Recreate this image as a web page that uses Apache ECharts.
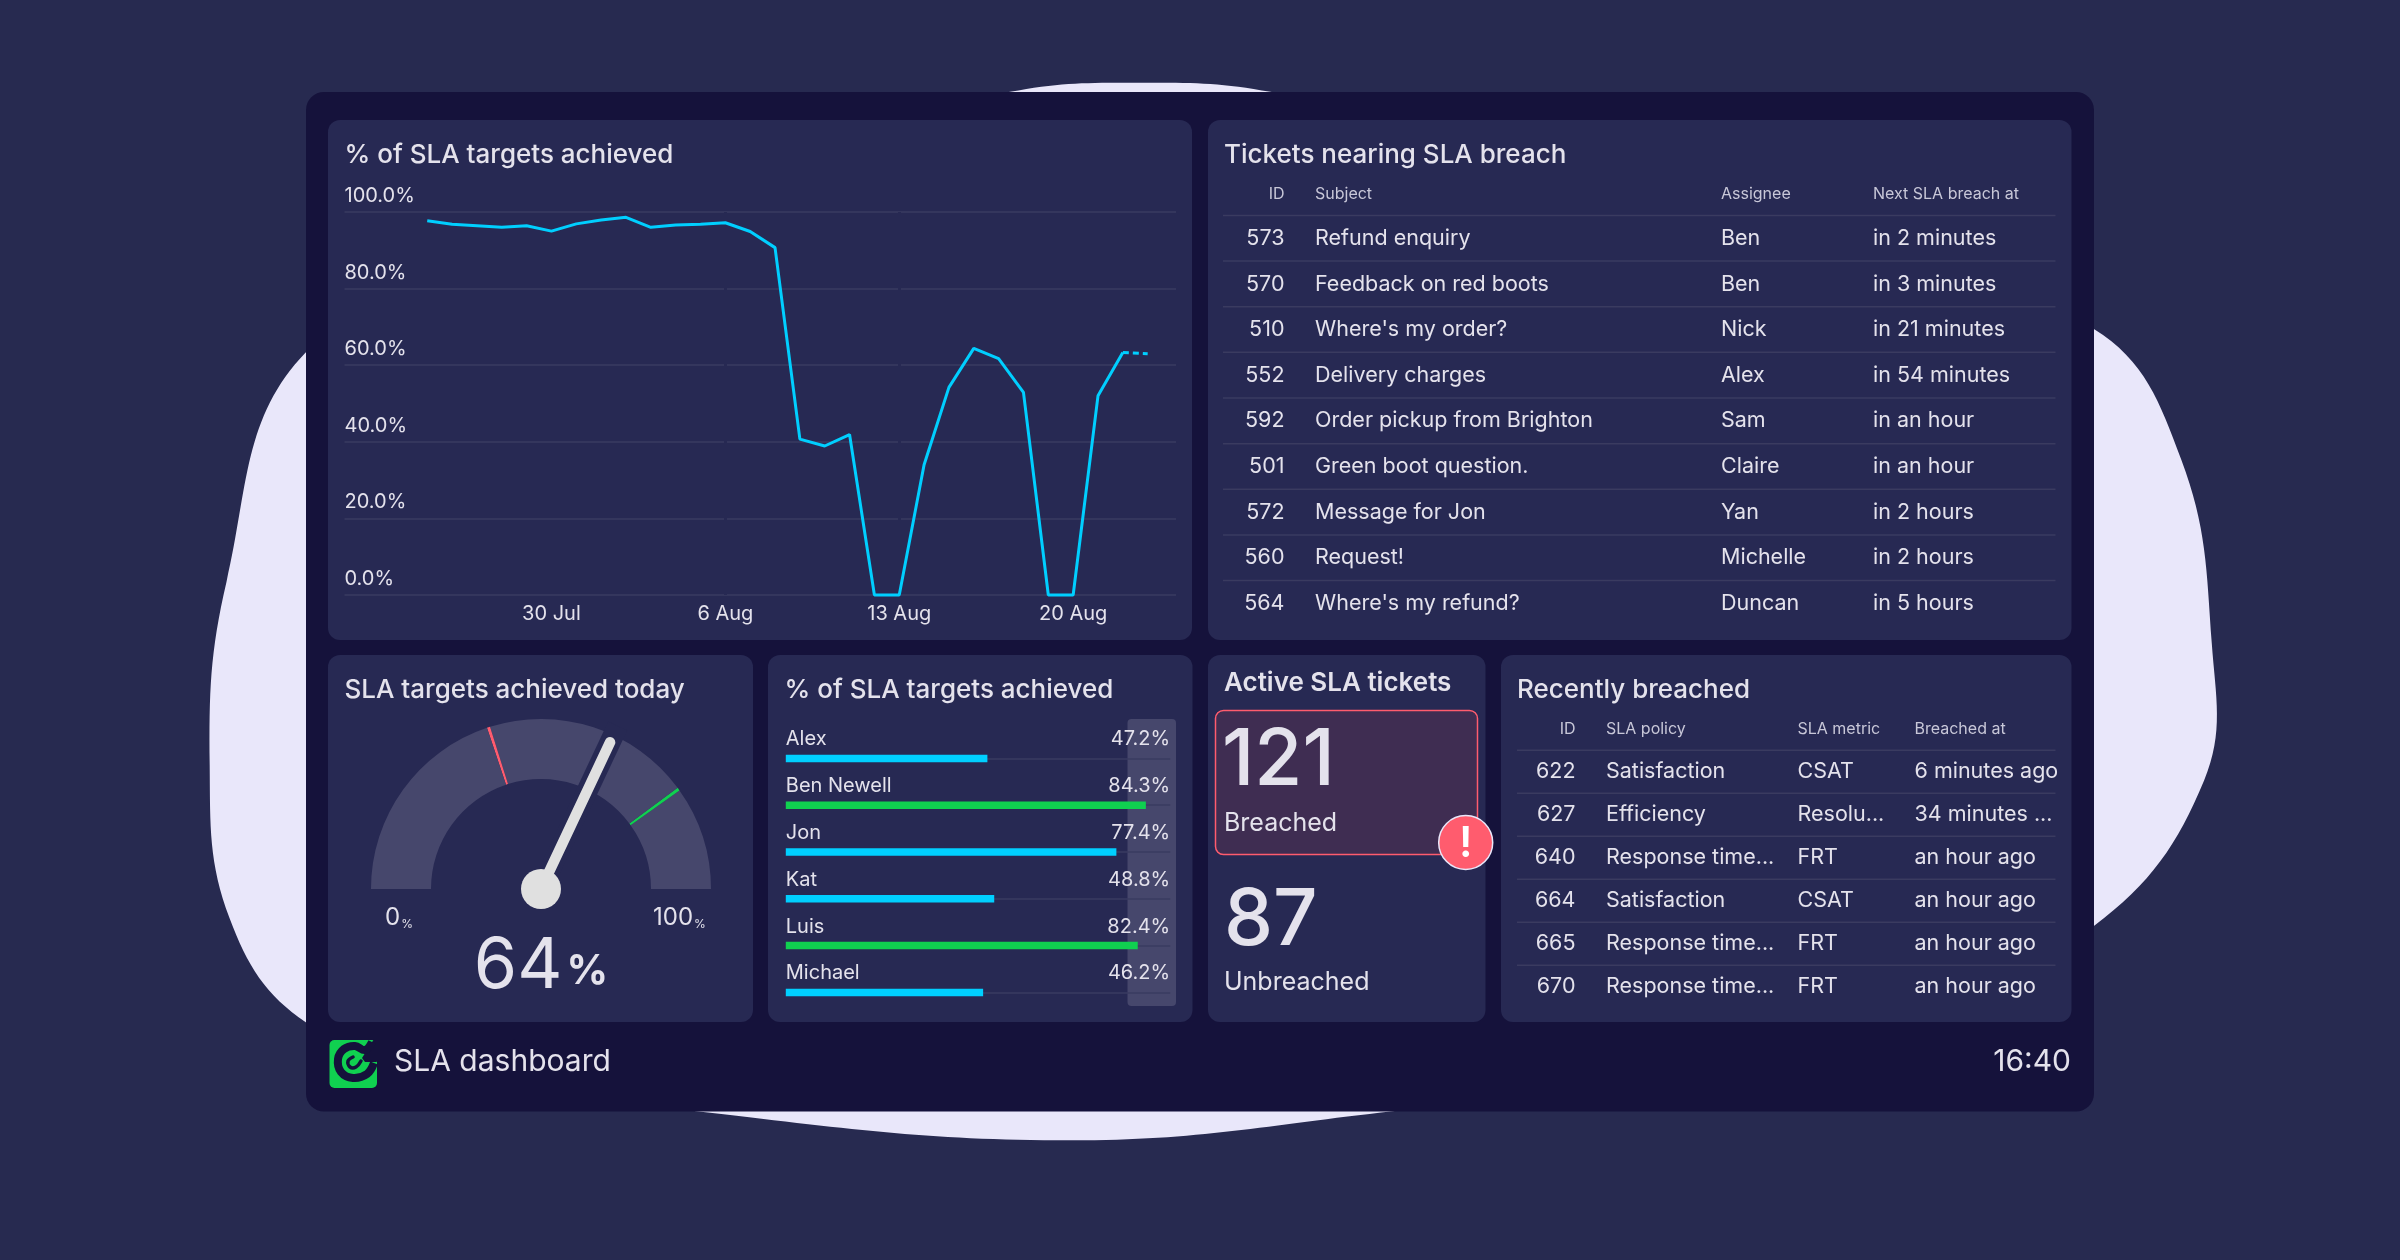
<!DOCTYPE html>
<html><head><meta charset="utf-8">
<style>html,body{margin:0;padding:0;background:#272a50}#c{width:2400px;height:1260px}</style>
<script src="https://cdn.jsdelivr.net/npm/echarts@6/dist/echarts.min.js"></script>
</head><body><div id="c"></div>
<script>
// ---------- data ----------
const trendDates = ['2023-07-25','2023-07-26','2023-07-27','2023-07-28','2023-07-29','2023-07-30','2023-07-31','2023-08-01','2023-08-02','2023-08-03','2023-08-04','2023-08-05','2023-08-06','2023-08-07','2023-08-08','2023-08-09','2023-08-10','2023-08-11','2023-08-12','2023-08-13','2023-08-14','2023-08-15','2023-08-16','2023-08-17','2023-08-18','2023-08-19','2023-08-20','2023-08-21','2023-08-22','2023-08-23'];
const trendValues = [97.7,96.8,96.4,96.0,96.4,95.0,96.9,97.9,98.6,96.0,96.6,96.8,97.2,94.9,90.7,40.7,38.9,41.9,0,0,34,54.2,64.4,61.7,52.9,0,0,52,63.3,63];
const trendTickDates = ['2023-07-30','2023-08-06','2023-08-13','2023-08-20'];
const trendTickLabels = ['30 Jul','6 Aug','13 Aug','20 Aug'];
const gaugeValue = 64;
const gaugeThresholds = [40, 80];
const agentNames = ['Alex','Ben Newell','Jon','Kat','Luis','Michael'];
const agentValues = [47.2,84.3,77.4,48.8,82.4,46.2];
const agentLabels = ['47.2%','84.3%','77.4%','48.8%','82.4%','46.2%'];
const nearHeaders = ['ID','Subject','Assignee','Next SLA breach at'];
const nearIds = ['573','570','510','552','592','501','572','560','564'];
const nearSubjects = ['Refund enquiry','Feedback on red boots',"Where's my order?",'Delivery charges','Order pickup from Brighton','Green boot question.','Message for Jon','Request!',"Where's my refund?"];
const nearAssignees = ['Ben','Ben','Nick','Alex','Sam','Claire','Yan','Michelle','Duncan'];
const nearTimes = ['in 2 minutes','in 3 minutes','in 21 minutes','in 54 minutes','in an hour','in an hour','in 2 hours','in 2 hours','in 5 hours'];
const recentHeaders = ['ID','SLA policy','SLA metric','Breached at'];
const recentIds = ['622','627','640','664','665','670'];
const recentPolicies = ['Satisfaction','Efficiency','Response time...','Satisfaction','Response time...','Response time...'];
const recentMetrics = ['CSAT','Resolu...','FRT','CSAT','FRT','FRT'];
const recentTimes = ['6 minutes ago','34 minutes ...','an hour ago','an hour ago','an hour ago','an hour ago'];
const breachedCount = '121', unbreachedCount = '87';

// ---------- styling ----------
const FONT = 'Inter, "Noto Sans", sans-serif';
const C = {bg:'#272a50',panel:'#15123b',card:'#272953',blob:'#e9e7fa',text:'#e4e2ec',sub:'#c8c7d8',rule:'#3a3b60',track:'#46476c',blue:'#00cfff',green:'#10d050',red:'#ff5c6e',needle:'#e0e0e0'};
const g = [];
const S = 2400/1568;
const blobPts = [[660,60],[745,54],[830,60],[1150,130],[1368,215],[1425,300],[1445,420],[1440,510],[1368,605],[1200,690],[910,726],[700,745],[455,726],[300,700],[200,668],[150,600],[137,500],[148,380],[200,230],[400,120]];
function rect(x,y,w,h,r,fill,extra){g.push(Object.assign({type:'rect',z:-100,silent:true,shape:{x,y,width:w,height:h,r},style:{fill}},extra||{}));}
function txt(x,y,text,size,opts){opts=opts||{};g.push({type:'text',z:50,silent:true,style:{x,y,text,fill:opts.fill||C.text,font:(opts.weight||400)+' '+size+'px '+FONT,textAlign:opts.align||'left',textVerticalAlign:'middle'}});}
g.push({type:'polygon',z:-100,silent:true,shape:{points:blobPts.map(p=>[p[0]*S,p[1]*S]),smooth:0.4},style:{fill:C.blob}});
rect(306,92,1788,1019.5,18,C.panel);
rect(328,120,864,520,12,C.card);
rect(1208,120,863.5,520,12,C.card);
rect(328,655,425,367,12,C.card);
rect(768,655,424.5,367,12,C.card);
rect(1208,655,277.5,367,12,C.card);
rect(1501,655,570.5,367,12,C.card);
// highlight band behind the last bars column
rect(1127.5,719,48.5,287,4,C.track);

txt(344.5,155.5,'% of SLA targets achieved',26,{weight:500});
txt(1224,155.5,'Tickets nearing SLA breach',26,{weight:500});
txt(344.5,690,'SLA targets achieved today',26,{weight:500});
txt(784.5,690,'% of SLA targets achieved',26,{weight:500});
txt(1224,683.5,'Active SLA tickets',26,{weight:600});
txt(1517,690,'Recently breached',26,{weight:500});

function table(cols,headers,rowsCols,headY,firstRow,step,firstLine,lineStep,lineX1,lineX2,headSize,rowSize){
  headers.forEach((h,i)=>txt(cols[i],headY,h,headSize,{fill:C.sub,align:i===0?'right':'left'}));
  rowsCols[0].forEach((_,r)=>{
    g.push({type:'line',z:-50,silent:true,shape:{x1:lineX1,y1:firstLine+r*lineStep,x2:lineX2,y2:firstLine+r*lineStep},style:{stroke:C.rule,lineWidth:1.5}});
    rowsCols.forEach((col,i)=>txt(cols[i],firstRow+r*step,col[r],rowSize,{align:i===0?'right':'left'}));
  });
}
table([1284.5,1315,1721,1873],nearHeaders,[nearIds,nearSubjects,nearAssignees,nearTimes],194.5,238.4,45.65,215.4,45.65,1223,2055.5,16,21.5);
table([1575.5,1606,1797.5,1914.5],recentHeaders,[recentIds,recentPolicies,recentMetrics,recentTimes],729.5,771.3,43.1,750.3,43,1517,2055.5,16,21.5);

// active tickets
rect(1215.5,710.5,262,144,8,'#3f2d52',{style:{fill:'#3f2d52',stroke:C.red,lineWidth:1.5}});
txt(1222,762,breachedCount,78,{weight:500});
txt(1224,823,'Breached',25);
txt(1224,922,unbreachedCount,78,{weight:500});
txt(1224,982.5,'Unbreached',25);
g.push({type:'circle',z:40,silent:true,shape:{cx:1465.7,cy:842.5,r:27},style:{fill:C.red,stroke:'#e9e7fa',lineWidth:1.5}});
txt(1465.7,844,'!',42,{fill:'#ffffff',weight:600,align:'center'});

// gauge end labels
g.push({type:'text',z:50,silent:true,style:{x:385,y:918,textVerticalAlign:'middle',text:'{a|0}{b|%}',rich:{a:{font:'400 24px '+FONT,fill:C.text},b:{font:'400 12px '+FONT,fill:C.text,verticalAlign:'bottom',padding:[5,0,0,1]}}}});
g.push({type:'text',z:50,silent:true,style:{x:653,y:918,textVerticalAlign:'middle',text:'{a|100}{b|%}',rich:{a:{font:'400 24px '+FONT,fill:C.text},b:{font:'400 12px '+FONT,fill:C.text,verticalAlign:'bottom',padding:[5,0,0,1]}}}});

// footer
const lx=320, ly=1030;
const L=pts=>pts.map(p=>[lx+p[0],ly+p[1]]);
rect(329.5,1040,47.5,48,5,C.green,{z:40});
g.push({type:'polygon',z:41,silent:true,shape:{points:L([[54,9],[59,9],[59,31],[56,32],[45,32],[42,28]])},style:{fill:C.panel}});
g.push({type:'polyline',z:42,silent:true,shape:{points:L([[54,33],[47,44],[33,48],[21,42],[18,29],[24,19],[35,16],[45,20],[52,12]]),smooth:0.4},style:{stroke:C.panel,fill:null,lineWidth:8,lineCap:'butt'}});
g.push({type:'polyline',z:42,silent:true,shape:{points:L([[33,27],[28,31],[30,37],[36,37],[41,31]]),smooth:0.4},style:{stroke:C.panel,fill:null,lineWidth:3.5,lineCap:'round'}});
txt(394,1062,'SLA dashboard',30);
txt(2071,1062,'16:40',30,{align:'right'});

// ---------- chart ----------
const gaugeSegments = [[(gaugeThresholds[0]-0.3)/100,C.track],[(gaugeThresholds[0]+0.3)/100,C.red],[(gaugeThresholds[1]-0.3)/100,C.track],[(gaugeThresholds[1]+0.3)/100,C.green],[1,C.track]];
const lineFull = trendValues.map((v,i)=>[i,i<=28?v:null]);
const lineLast = trendValues.map((v,i)=>[i,i>=28?v:null]);
const tickIdx = trendTickDates.map(d=>trendDates.indexOf(d));
const option = {
  animation:false,
  backgroundColor:C.bg,
  textStyle:{fontFamily:FONT},
  graphic:{elements:g},
  grid:[
    {left:344.5,top:212,width:831.5,height:383,containLabel:false},
    {left:785.8,top:735,width:384.4,height:280.8,containLabel:false}
  ],
  xAxis:[
    {type:'value',gridIndex:0,min:tickIdx[0]-8.33,max:tickIdx[3]+4.14,
     axisLine:{show:false},axisTick:{show:false,customValues:tickIdx},
     splitLine:{show:true,showMinLine:false,showMaxLine:false,lineStyle:{color:C.card,width:3}},
     axisLabel:{customValues:tickIdx,color:C.text,fontSize:20,margin:9,fontFamily:FONT,hideOverlap:false,showMinLabel:true,showMaxLabel:true,
       formatter:v=>trendTickLabels[tickIdx.indexOf(v)]||''}},
    {type:'value',gridIndex:1,min:0,max:90,show:false,splitLine:{show:false}}
  ],
  yAxis:[
    {type:'value',gridIndex:0,min:0,max:100,interval:20,
     axisLine:{show:false},axisTick:{show:false},
     splitLine:{show:true,lineStyle:{color:C.rule,width:1.5}},
     axisLabel:{inside:true,margin:0,align:'left',verticalAlign:'bottom',padding:[0,0,6,0],color:C.text,fontSize:20,fontFamily:FONT,formatter:v=>v.toFixed(1)+'%'}},
    {type:'category',gridIndex:1,inverse:true,data:agentNames,
     axisLine:{show:false},axisTick:{show:false},splitLine:{show:false},
     axisLabel:{inside:true,margin:0,align:'left',verticalAlign:'bottom',padding:[0,0,9,0],color:C.text,fontSize:20,fontFamily:FONT}},
    {type:'category',gridIndex:1,inverse:true,position:'right',data:agentLabels,
     axisLine:{show:false},axisTick:{show:false},splitLine:{show:false},
     axisLabel:{inside:true,margin:0,align:'right',verticalAlign:'bottom',padding:[0,0,9,0],color:C.text,fontSize:20,fontFamily:FONT}}
  ],
  series:[
    {type:'line',xAxisIndex:0,yAxisIndex:0,data:lineFull,showSymbol:false,symbol:'none',connectNulls:false,clip:false,lineStyle:{color:C.blue,width:3}},
    {type:'line',xAxisIndex:0,yAxisIndex:0,data:lineLast,showSymbol:false,symbol:'none',connectNulls:false,clip:false,lineStyle:{color:C.blue,width:3,type:[6,4]}},
    {type:'bar',xAxisIndex:1,yAxisIndex:1,barWidth:7.5,z:3,
     data:agentValues.map(v=>({value:v,itemStyle:{color:v>=gaugeThresholds[1]?C.green:C.blue}})),
     markLine:{silent:true,z:1,symbol:'none',label:{show:false},lineStyle:{color:C.rule,width:1.5,type:'solid'},animation:false,data:agentNames.map(n=>({yAxis:n}))}},
    {type:'gauge',center:[541,889],radius:170,startAngle:180,endAngle:0,min:0,max:100,z:3,
     axisLine:{lineStyle:{width:60,color:gaugeSegments}},
     axisTick:{show:false},splitLine:{show:false},axisLabel:{show:false},
     pointer:{icon:'rect',width:21,length:'106%',offsetCenter:[0,0],itemStyle:{color:C.card}},
     anchor:{show:false},title:{show:false},detail:{show:false},data:[{value:gaugeValue}]},
    {type:'gauge',center:[541,889],radius:170,startAngle:180,endAngle:0,min:0,max:100,z:4,
     axisLine:{show:false},axisTick:{show:false},splitLine:{show:false},axisLabel:{show:false},
     pointer:{icon:'path://M5 0a5 5 0 0 1 5 5V160H0V5a5 5 0 0 1 5-5Z',width:10.5,length:'98.5%',itemStyle:{color:C.needle}},
     anchor:{show:true,showAbove:true,size:40,itemStyle:{color:C.needle,borderWidth:0}},
     title:{show:false},
     detail:{show:true,offsetCenter:[0,78],formatter:'{a|{value}}{b|%}',rich:{a:{fontSize:70,fontFamily:FONT,color:C.text,fontWeight:400},b:{fontSize:41,fontFamily:FONT,color:C.text,padding:[10,0,0,4]}}},
     data:[{value:gaugeValue}]}
  ]
};
const chart = echarts.init(document.getElementById('c'),null,{renderer:'canvas',width:2400,height:1260});
chart.setOption(option);
</script></body></html>
